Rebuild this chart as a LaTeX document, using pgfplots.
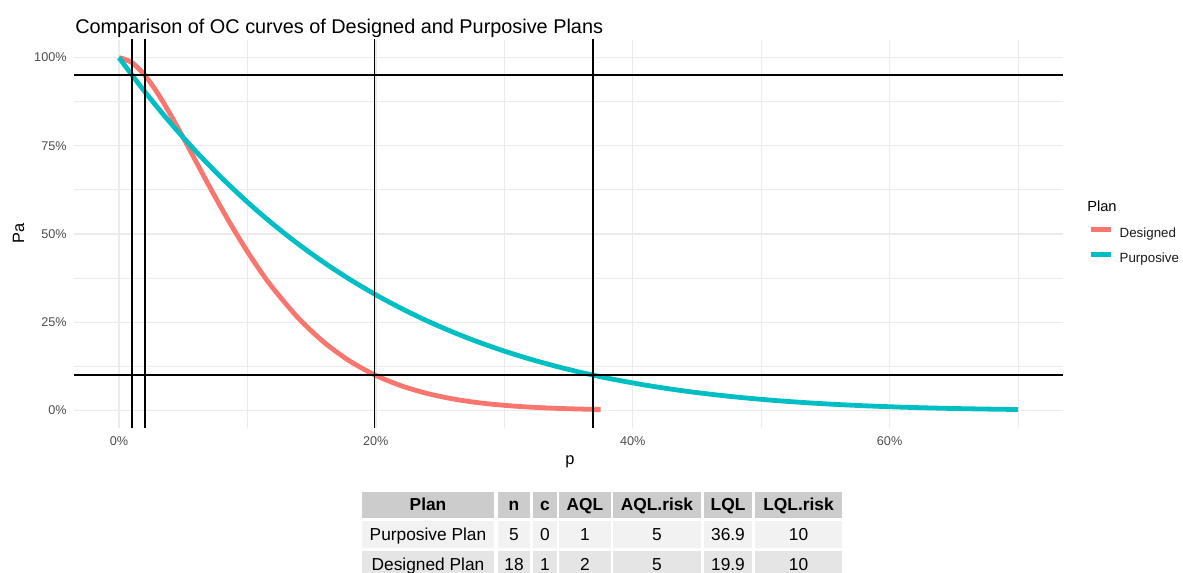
\documentclass[border=0pt]{standalone}
\usepackage{fontspec}
\setmainfont{Liberation Sans}
\usepackage{pgfplots}
\usepackage{pgfplotstable}
\pgfplotsset{compat=1.18}
\definecolor{dsg}{HTML}{F8766D}
\definecolor{pur}{HTML}{00BFC4}
\definecolor{gridc}{HTML}{EBEBEB}
\definecolor{tickc}{HTML}{4D4D4D}
\definecolor{hdr}{HTML}{CCCCCC}
\definecolor{rowa}{HTML}{F2F2F2}
\definecolor{rowb}{HTML}{E5E5E5}

\pgfplotstableread{
p Pa
0 100
1 98.624
2 95.050
3 89.970
4 83.929
5 77.352
6 70.551
7 63.773
8 57.188
9 50.913
10 45.028
11 39.583
12 34.598
14 26.026
16 19.199
18 13.910
20 9.908
22 6.941
24 4.783
26 3.243
28 2.163
30 1.419
32 0.915
34 0.580
36 0.361
37.5 0.250
}\designed

\pgfplotstableread{
p Pa
0 100
2 90.392
4 81.537
6 73.390
8 65.908
10 59.049
12 52.773
14 47.043
16 41.821
18 37.074
20 32.768
22 28.872
24 25.355
26 22.191
28 19.349
30 16.807
32 14.539
34 12.523
36 10.737
38 9.161
40 7.776
42 6.564
44 5.507
46 4.592
48 3.802
50 3.125
52 2.548
54 2.060
56 1.649
58 1.307
60 1.024
62 0.792
64 0.605
66 0.454
68 0.336
70 0.243
}\purposive

\begin{document}
\begin{tikzpicture}
\useasboundingbox (0,0) rectangle (887.25pt,429.75pt);
\begin{axis}[
  at={(55.5pt,108.75pt)}, anchor=south west,
  scale only axis, width=741.75pt, height=291pt,
  xmin=-3.5, xmax=73.5, ymin=-5, ymax=105,
  xtick={0,20,40,60}, xticklabels={0\%,20\%,40\%,60\%},
  minor xtick={10,30,50,70},
  ytick={0,25,50,75,100}, yticklabels={0\%,25\%,50\%,75\%,100\%},
  minor ytick={12.5,37.5,62.5,87.5},
  grid=both,
  major grid style={gridc, line width=1pt},
  minor grid style={gridc, line width=0.6pt},
  axis line style={draw=none},
  major tick length=0pt, minor tick length=0pt,
  tick style={draw=none},
  ticklabel style={font=\fontsize{9.5}{12}\selectfont, text=tickc},
  xticklabel style={yshift=-3pt},
  yticklabel style={xshift=-2pt},
  xlabel={p}, ylabel={Pa},
  every axis x label/.style={at={(axis description cs:0.5015,-0.0876)}, anchor=center, font=\fontsize{12.3}{14}\selectfont},
  every axis y label/.style={at={(axis description cs:-0.0561,0.5026)}, anchor=center, rotate=90, font=\fontsize{12.3}{14}\selectfont},
  legend style={at={(axis description cs:1.0212,0.5258)}, anchor=north west,
    draw=none, fill=none, font=\fontsize{10}{12}\selectfont, text=black!90,
    nodes={inner sep=0pt, text height=8pt, text depth=2pt},
    row sep=8.75pt},
  legend cell align=left,
  legend image code/.code={\draw[#1] (0pt,3pt) -- (15pt,3pt);},
  /tikz/every odd column/.append style={column sep=5pt},
]
\addplot[dsg, line width=3.6pt, smooth] table[x=p, y=Pa] {\designed};
\addlegendentry{Designed}
\addplot[pur, line width=3.6pt, smooth] table[x=p, y=Pa] {\purposive};
\addlegendentry{Purposive}
\addplot[black, line width=1.3pt, forget plot] coordinates {(-10,95) (80,95)};
\addplot[black, line width=1.3pt, forget plot] coordinates {(-10,10) (80,10)};
\addplot[black, line width=1.3pt, forget plot] coordinates {(1,-10) (1,110)};
\addplot[black, line width=1.3pt, forget plot] coordinates {(2,-10) (2,110)};
\addplot[black, line width=1.3pt, forget plot] coordinates {(19.9,-10) (19.9,110)};
\addplot[black, line width=1.3pt, forget plot] coordinates {(36.9,-10) (36.9,110)};
\end{axis}

\begin{scope}[x=0.75pt, y=-0.75pt, shift={(0,429.75pt)}]
\node[anchor=base west, inner sep=0pt, font=\fontsize{14.9}{18}\selectfont] at (75,34)
  {Comparison of OC curves of Designed and Purposive Plans};
\node[anchor=base west, inner sep=0pt, font=\fontsize{11}{13}\selectfont] at (1087,212) {Plan};
% table
\foreach \a/\b in {362/494, 498/530, 533/557, 559/611, 613/701, 704/752, 755/842} {
  \fill[hdr] (\a,492) rectangle (\b,518);
  \fill[rowa] (\a,521) rectangle (\b,548);
  \fill[rowb] (\a,551) rectangle (\b,580);
}
\begin{scope}[every node/.style={anchor=base, inner sep=0pt, font=\fontsize{13}{15}\selectfont}]
\node[font=\fontsize{13}{15}\selectfont\bfseries] at (428,511) {Plan};
\node[font=\fontsize{13}{15}\selectfont\bfseries] at (514,511) {n};
\node[font=\fontsize{13}{15}\selectfont\bfseries] at (545,511) {c};
\node[font=\fontsize{13}{15}\selectfont\bfseries] at (585,511) {AQL};
\node[font=\fontsize{13}{15}\selectfont\bfseries] at (657,511) {AQL.risk};
\node[font=\fontsize{13}{15}\selectfont\bfseries] at (728,511) {LQL};
\node[font=\fontsize{13}{15}\selectfont\bfseries] at (798.5,511) {LQL.risk};
\node at (428,541) {Purposive Plan};
\node at (514,541) {5};
\node at (545,541) {0};
\node at (585,541) {1};
\node at (657,541) {5};
\node at (728,541) {36.9};
\node at (798.5,541) {10};
\node at (428,571) {Designed Plan};
\node at (514,571) {18};
\node at (545,571) {1};
\node at (585,571) {2};
\node at (657,571) {5};
\node at (728,571) {19.9};
\node at (798.5,571) {10};
\end{scope}
\end{scope}
\end{tikzpicture}
\end{document}
